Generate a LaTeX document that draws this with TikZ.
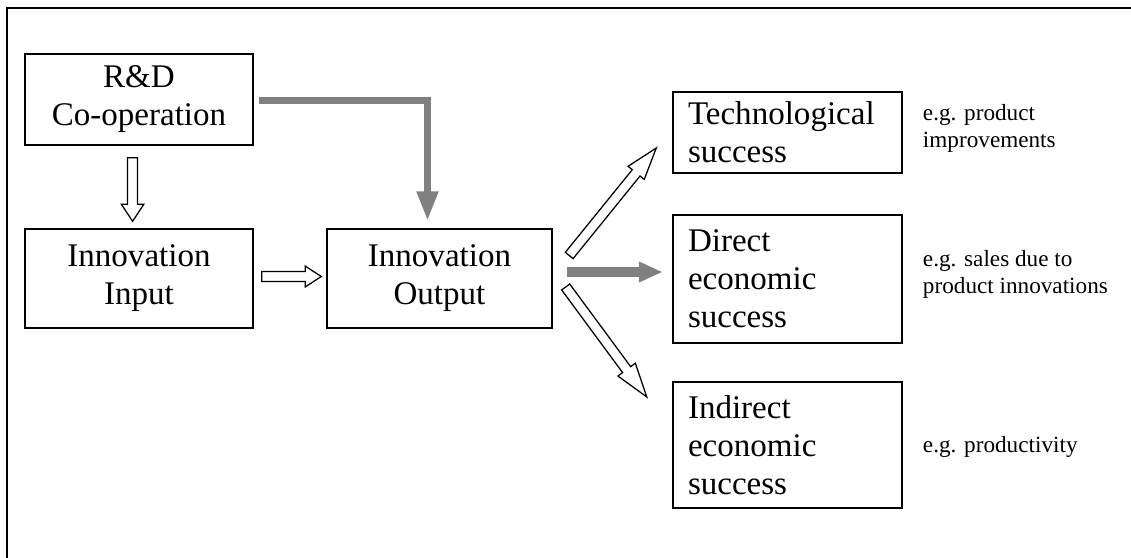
\documentclass[tikz,border=0pt]{standalone}
\usepackage{fontspec}
\setmainfont{Liberation Serif}
\usetikzlibrary{positioning,calc,arrows.meta}

\tikzset{
    box/.style={draw, line width=1pt, inner sep=0pt, align=center, font=\fontsize{23.5}{27}\selectfont},
    outbox/.style={draw, line width=1pt, inner xsep=0.375cm, inner ysep=0pt, text width=4.975cm, align=left, font=\fontsize{23.5}{27}\selectfont},
    note/.style={inner sep=0pt, align=left, font=\fontsize{16.5}{19}\selectfont},
    hollow/.style={draw, fill=white, line width=0.9pt, line join=miter},
    grayarrow/.style={draw=gray, line width=#1}
}

% block arrow with white body: start, end, half shaft, half head, head length
\newcommand{\hollowarrow}[5]{%
    \coordinate (neck) at ($(#2)!#5!(#1)$);
    \draw[hollow] ($(#1)!#3!-90:(#2)$) -- ($(neck)!#3!-90:(#2)$) -- ($(neck)!#4!-90:(#2)$) -- (#2)
        -- ($(neck)!#4!90:(#2)$) -- ($(neck)!#3!90:(#2)$) -- ($(#1)!#3!90:(#2)$) -- cycle;}

\begin{document}
\begin{tikzpicture}
    \useasboundingbox (0,0) rectangle (28.275,13.95);
    % Outer frame
    \draw[line width=1.6pt] (0.175,0) |- (28.275,13.75);

    % Left chain
    \node[box, minimum width=5.7cm, minimum height=2.275cm] (rd) at (3.475,11.4625) {R\&D\\Co-operation};
    \node[box, minimum width=5.7cm, minimum height=2.475cm] (input) at (3.475,6.9875) {Innovation\\Input};
    \node[box, minimum width=5.625cm, minimum height=2.475cm] (output) at (10.9875,6.9875) {Innovation\\Output};

    % Success boxes
    \node[outbox, minimum height=2.025cm] (tech) at (19.6875,10.6375) {Technological\\success};
    \node[outbox, minimum height=3.2cm] (direct) at (19.6875,6.975) {Direct\\economic\\success};
    \node[outbox, minimum height=3.15cm] (indirect) at (19.6875,2.825) {Indirect\\economic\\success};

    % Examples
    \node[note, right=0.5cm of tech, yshift=0.11cm] (techex) {e.g. product\\improvements};
    \node[note, right=0.5cm of direct, yshift=0.11cm] (directex) {e.g. sales due to\\product innovations};
    \node[note, right=0.5cm of indirect, yshift=-0.04cm] (indirectex) {e.g. productivity};

    % Arrow ends
    \coordinate (rd-s) at ($(rd.south)+(-0.16,-0.3)$);
    \coordinate (input-n) at ($(input.north)+(-0.16,0.175)$);
    \coordinate (input-e) at ($(input.east)+(0.2,0.05)$);
    \coordinate (output-w) at ($(output.west)+(-0.125,0.05)$);
    \coordinate (rd-e) at ($(rd.east)+(0.125,-0.025)$);
    \coordinate (output-n) at ($(output.north)+(-0.3,0.175)$);
    \coordinate (output-ne) at ($(output.east)+(0.4125,0.575)$);
    \coordinate (tech-w) at ($(tech.west)+(-0.4,-0.3875)$);
    \coordinate (output-e) at ($(output.east)+(0.35,0.1625)$);
    \coordinate (direct-w) at ($(direct.west)+(-0.2375,0.175)$);
    \coordinate (output-se) at ($(output.east)+(0.325,-0.2125)$);
    \coordinate (indirect-w) at ($(indirect.west)+(-0.6375,1.2)$);

    % Arrows
    \hollowarrow{rd-s}{input-n}{0.125cm}{0.28cm}{0.425cm}
    \hollowarrow{input-e}{output-w}{0.125cm}{0.26cm}{0.4cm}
    \draw[grayarrow=5.3pt, -{Triangle[width=0.5cm, length=0.75cm]}, gray] (rd-e) -| (output-n);
    \hollowarrow{output-ne}{tech-w}{0.125cm}{0.26cm}{0.8cm}
    \draw[grayarrow=6.5pt, -{Triangle[width=0.48cm, length=0.6cm]}, gray] (output-e) -- (direct-w);
    \hollowarrow{output-se}{indirect-w}{0.125cm}{0.27cm}{0.85cm}
\end{tikzpicture}
\end{document}
